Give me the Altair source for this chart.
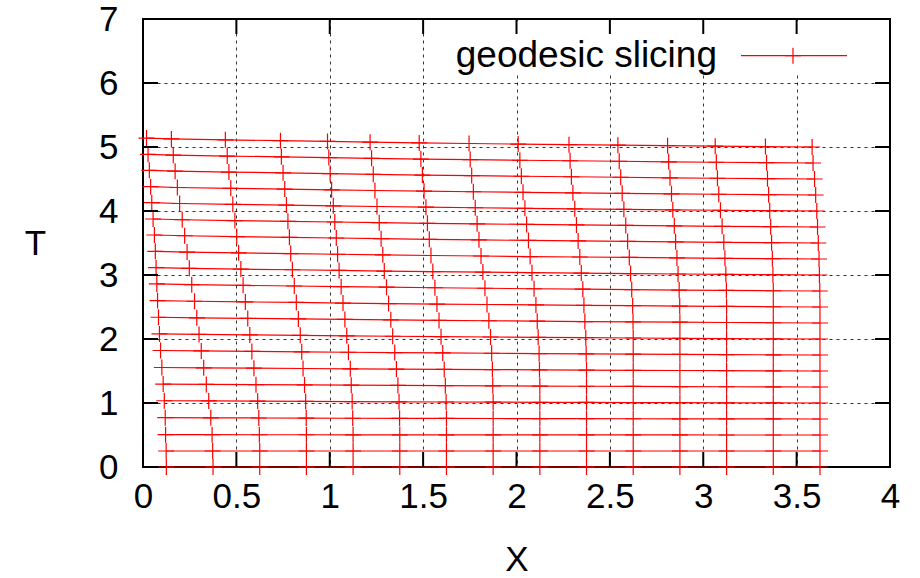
import altair as alt
import pandas as pd

# ---- worldline X positions, one value per slice (slice 0 .. 20) ----
x_wl0 = [0.125, 0.124, 0.121, 0.119, 0.114, 0.108, 0.101, 0.094, 0.088, 0.083, 0.078, 0.074, 0.070, 0.066, 0.061, 0.054, 0.047, 0.041, 0.034, 0.027, 0.019]
x_wl1 = [0.375, 0.373, 0.370, 0.363, 0.352, 0.339, 0.325, 0.312, 0.300, 0.288, 0.276, 0.261, 0.248, 0.236, 0.223, 0.210, 0.196, 0.184, 0.172, 0.162, 0.152]
x_wl2 = [0.625, 0.625, 0.623, 0.620, 0.614, 0.605, 0.594, 0.583, 0.572, 0.561, 0.548, 0.536, 0.524, 0.512, 0.502, 0.492, 0.481, 0.470, 0.460, 0.451, 0.441]
x_wl3 = [0.875, 0.875, 0.875, 0.874, 0.871, 0.865, 0.857, 0.850, 0.842, 0.832, 0.821, 0.810, 0.800, 0.791, 0.784, 0.776, 0.768, 0.759, 0.750, 0.741, 0.736]
x_wl4 = [1.125, 1.125, 1.125, 1.123, 1.120, 1.115, 1.110, 1.100, 1.091, 1.081, 1.071, 1.061, 1.050, 1.042, 1.035, 1.027, 1.019, 1.010, 1.002, 0.995, 0.988]
x_wl5 = [1.375, 1.375, 1.375, 1.374, 1.371, 1.365, 1.357, 1.348, 1.337, 1.327, 1.315, 1.304, 1.292, 1.284, 1.275, 1.265, 1.253, 1.242, 1.233, 1.224, 1.216]
x_wl6 = [1.625, 1.625, 1.625, 1.625, 1.623, 1.619, 1.613, 1.605, 1.596, 1.585, 1.574, 1.563, 1.552, 1.542, 1.533, 1.523, 1.515, 1.505, 1.496, 1.488, 1.479]
x_wl7 = [1.875, 1.875, 1.875, 1.875, 1.875, 1.873, 1.871, 1.867, 1.861, 1.852, 1.842, 1.831, 1.820, 1.810, 1.799, 1.789, 1.779, 1.769, 1.760, 1.752, 1.746]
x_wl8 = [2.125, 2.125, 2.125, 2.125, 2.125, 2.125, 2.123, 2.121, 2.116, 2.111, 2.104, 2.094, 2.083, 2.073, 2.064, 2.054, 2.045, 2.035, 2.026, 2.018, 2.009]
x_wl9 = [2.375, 2.375, 2.375, 2.375, 2.375, 2.375, 2.375, 2.373, 2.371, 2.366, 2.361, 2.355, 2.347, 2.339, 2.330, 2.321, 2.312, 2.302, 2.294, 2.287, 2.281]
x_wl10 = [2.625, 2.625, 2.625, 2.625, 2.625, 2.625, 2.625, 2.625, 2.625, 2.624, 2.622, 2.617, 2.611, 2.604, 2.595, 2.585, 2.575, 2.566, 2.558, 2.550, 2.543]
x_wl11 = [2.875, 2.875, 2.875, 2.875, 2.875, 2.875, 2.875, 2.875, 2.875, 2.875, 2.874, 2.871, 2.865, 2.859, 2.852, 2.845, 2.837, 2.830, 2.822, 2.815, 2.809]
x_wl12 = [3.125, 3.125, 3.125, 3.125, 3.125, 3.125, 3.125, 3.125, 3.125, 3.125, 3.125, 3.124, 3.121, 3.116, 3.110, 3.101, 3.092, 3.083, 3.076, 3.070, 3.064]
x_wl13 = [3.375, 3.375, 3.375, 3.375, 3.375, 3.375, 3.375, 3.375, 3.375, 3.375, 3.375, 3.375, 3.373, 3.370, 3.366, 3.361, 3.356, 3.350, 3.344, 3.339, 3.333]
x_wl14 = [3.625, 3.625, 3.625, 3.625, 3.625, 3.625, 3.625, 3.625, 3.625, 3.625, 3.625, 3.624, 3.622, 3.620, 3.616, 3.612, 3.608, 3.602, 3.596, 3.588, 3.583]

# ---- slice T values, one value per worldline (worldline 0 .. 14) ----
t_s0 = [0.000] * 15
t_s1 = [0.250] * 15
t_s2 = [0.505, 0.505, 0.504, 0.504, 0.503, 0.503, 0.502, 0.502, 0.502, 0.501, 0.501, 0.501, 0.500, 0.500, 0.500]
t_s3 = [0.770, 0.768, 0.766, 0.764, 0.762, 0.761, 0.759, 0.758, 0.756, 0.755, 0.754, 0.753, 0.752, 0.751, 0.750]
t_s4 = [1.035, 1.032, 1.028, 1.025, 1.022, 1.019, 1.016, 1.014, 1.011, 1.009, 1.007, 1.005, 1.003, 1.001, 1.000]
t_s5 = [1.295, 1.291, 1.286, 1.282, 1.278, 1.274, 1.271, 1.268, 1.264, 1.262, 1.259, 1.256, 1.254, 1.252, 1.250]
t_s6 = [1.555, 1.550, 1.544, 1.539, 1.534, 1.530, 1.525, 1.522, 1.518, 1.514, 1.511, 1.508, 1.505, 1.502, 1.500]
t_s7 = [1.820, 1.813, 1.806, 1.800, 1.793, 1.788, 1.782, 1.777, 1.772, 1.768, 1.764, 1.760, 1.756, 1.753, 1.750]
t_s8 = [2.080, 2.072, 2.064, 2.057, 2.050, 2.043, 2.037, 2.031, 2.026, 2.021, 2.016, 2.011, 2.007, 2.003, 2.000]
t_s9 = [2.340, 2.331, 2.322, 2.314, 2.306, 2.299, 2.291, 2.285, 2.279, 2.273, 2.268, 2.263, 2.258, 2.254, 2.250]
t_s10 = [2.600, 2.590, 2.580, 2.571, 2.562, 2.554, 2.546, 2.539, 2.532, 2.526, 2.520, 2.514, 2.509, 2.504, 2.500]
t_s11 = [2.860, 2.849, 2.838, 2.828, 2.818, 2.809, 2.801, 2.793, 2.785, 2.779, 2.772, 2.765, 2.760, 2.754, 2.750]
t_s12 = [3.115, 3.104, 3.092, 3.082, 3.071, 3.062, 3.053, 3.045, 3.037, 3.030, 3.023, 3.016, 3.010, 3.005, 3.000]
t_s13 = [3.370, 3.358, 3.346, 3.335, 3.324, 3.315, 3.305, 3.297, 3.288, 3.281, 3.274, 3.267, 3.261, 3.255, 3.250]
t_s14 = [3.625, 3.613, 3.600, 3.589, 3.578, 3.568, 3.558, 3.549, 3.540, 3.533, 3.525, 3.518, 3.511, 3.505, 3.500]
t_s15 = [3.875, 3.863, 3.850, 3.839, 3.828, 3.818, 3.808, 3.799, 3.790, 3.783, 3.775, 3.768, 3.761, 3.755, 3.750]
t_s16 = [4.130, 4.117, 4.104, 4.092, 4.081, 4.070, 4.060, 4.051, 4.042, 4.034, 4.026, 4.018, 4.012, 4.005, 4.000]
t_s17 = [4.380, 4.367, 4.354, 4.342, 4.331, 4.320, 4.310, 4.301, 4.292, 4.284, 4.276, 4.268, 4.262, 4.255, 4.250]
t_s18 = [4.635, 4.622, 4.608, 4.596, 4.584, 4.573, 4.562, 4.553, 4.543, 4.535, 4.527, 4.519, 4.512, 4.505, 4.500]
t_s19 = [4.885, 4.872, 4.858, 4.846, 4.834, 4.823, 4.812, 4.803, 4.793, 4.785, 4.777, 4.769, 4.762, 4.755, 4.750]
t_s20 = [5.140, 5.126, 5.112, 5.099, 5.087, 5.076, 5.064, 5.055, 5.045, 5.036, 5.028, 5.020, 5.013, 5.006, 5.000]

x_ticks = [0, 0.5, 1, 1.5, 2, 2.5, 3, 3.5, 4]
y_ticks = [0, 1, 2, 3, 4, 5, 6, 7]
series_label = "geodesic slicing"
x_title = "X"
y_title = "T"

worldlines = [x_wl0, x_wl1, x_wl2, x_wl3, x_wl4, x_wl5, x_wl6, x_wl7, x_wl8, x_wl9,
              x_wl10, x_wl11, x_wl12, x_wl13, x_wl14]
slices = [t_s0, t_s1, t_s2, t_s3, t_s4, t_s5, t_s6, t_s7, t_s8, t_s9, t_s10,
          t_s11, t_s12, t_s13, t_s14, t_s15, t_s16, t_s17, t_s18, t_s19, t_s20]

rows = []
for i, tl in enumerate(slices):
    for k, t in enumerate(tl):
        rows.append({"slice": i, "wl": k, "X": worldlines[k][i], "T": t})
df = pd.DataFrame(rows)

W, H = 747, 448
FONT = "Liberation Sans"
FS = 35
RED = "#ff0000"
PLUS = "M-1,0L1,0M0,-1L0,1"

xs = alt.Scale(domain=[0, 4], nice=False, zero=False)
ys = alt.Scale(domain=[0, 7], nice=False, zero=False)

x_axis = alt.Axis(values=x_ticks, format="~g", grid=True, gridDash=[3, 4],
                  gridColor="black", gridOpacity=0.8, gridWidth=1,
                  ticks=False, domain=False, labelFlush=False, labelOverlap=False,
                  labelFontSize=FS, labelFont=FONT, labelColor="black", labelPadding=12,
                  title=x_title, titleFontSize=FS, titleFont=FONT, titleFontWeight="normal",
                  titleColor="black", titleX=W / 2, titleY=110, titleBaseline="bottom",
                  titleAlign="center")
y_axis = alt.Axis(values=y_ticks, format="~g", grid=True, gridDash=[3, 4],
                  gridColor="black", gridOpacity=0.8, gridWidth=1,
                  ticks=False, domain=False, labelFlush=False, labelOverlap=False,
                  labelFontSize=FS, labelFont=FONT, labelColor="black", labelPadding=25,
                  title=y_title, titleFontSize=FS, titleFont=FONT, titleFontWeight="normal",
                  titleColor="black", titleAngle=0, titleX=-108, titleY=H / 2,
                  titleBaseline="middle", titleAlign="center")

XE = alt.X("X:Q", scale=xs, axis=x_axis)
YE = alt.Y("T:Q", scale=ys, axis=y_axis)

base = alt.Chart(df)

lines = base.mark_line(color=RED, strokeWidth=1.2).encode(
    x=XE, y=YE, detail="slice:N", order="wl:Q",
)

pts = base.mark_point(shape=PLUS, size=256, color=RED, filled=False,
                      strokeWidth=1.2, opacity=1).encode(x=XE, y=YE)

one = pd.DataFrame({"k": [0]})
key_box = alt.Chart(one).mark_rect(fill="white").encode(
    x=alt.value(302), x2=alt.value(718), y=alt.value(2), y2=alt.value(56)
)

xt = pd.DataFrame({"X": x_ticks})
yt = pd.DataFrame({"T": y_ticks})
TK = 15
tick_bottom = alt.Chart(xt).mark_rule(color="black", strokeWidth=2).encode(
    x=XE, y=alt.value(H), y2=alt.value(H - TK))
tick_top = alt.Chart(xt).mark_rule(color="black", strokeWidth=2).encode(
    x=XE, y=alt.value(0), y2=alt.value(TK))
tick_left = alt.Chart(yt).mark_rule(color="black", strokeWidth=2).encode(
    y=YE, x=alt.value(0), x2=alt.value(TK))
tick_right = alt.Chart(yt).mark_rule(color="black", strokeWidth=2).encode(
    y=YE, x=alt.value(W - TK), x2=alt.value(W))

key_text = alt.Chart(one).mark_text(text=series_label, font=FONT, fontSize=37,
                                    align="right", baseline="alphabetic",
                                    color="black").encode(
    x=alt.value(574), y=alt.value(48))
key_line = alt.Chart(one).mark_rule(color=RED, strokeWidth=1.2).encode(
    x=alt.value(598), x2=alt.value(704), y=alt.value(36.7))
key_pt = alt.Chart(one).mark_point(shape=PLUS, size=256, color=RED, filled=False,
                                   strokeWidth=1.2, opacity=1).encode(
    x=alt.value(650), y=alt.value(36.7))

chart = alt.layer(
    lines, key_box, pts, tick_bottom, tick_top, tick_left, tick_right,
    key_line, key_pt, key_text
).properties(
    width=W, height=H,
    autosize=alt.AutoSizeParams(type="none"),
    padding={"left": 143, "top": 19, "right": 30, "bottom": 111},
).configure_view(stroke="black", strokeWidth=2)

chart.save("out.html", embed_options={"renderer": "svg", "actions": False})
